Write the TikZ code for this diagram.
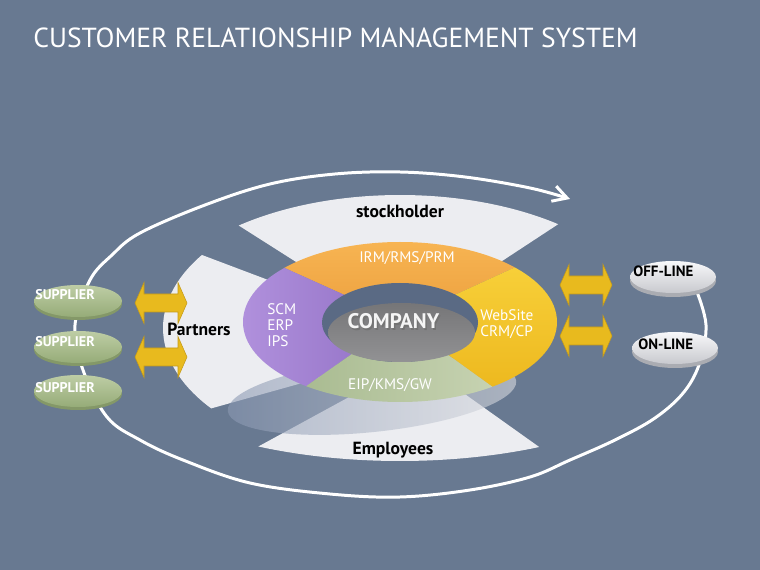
\documentclass[tikz,border=0pt]{standalone}
\usepackage{fontspec}
\setmainfont{PT Sans}
\usepackage{xcolor}
\usetikzlibrary{arrows.meta}

\definecolor{bgslate}{RGB}{104,121,145}
\definecolor{holeslate}{RGB}{90,106,132}
\definecolor{paperwhite}{RGB}{236,237,241}
\definecolor{orangetop}{RGB}{247,180,82}
\definecolor{orangebot}{RGB}{224,138,40}
\definecolor{purplel}{RGB}{176,144,220}
\definecolor{purpler}{RGB}{112,78,172}
\definecolor{greenl}{RGB}{160,180,135}
\definecolor{greenr}{RGB}{208,218,188}
\definecolor{yellowt}{RGB}{249,212,62}
\definecolor{yellowb}{RGB}{236,182,28}
\definecolor{companyt}{RGB}{118,118,120}
\definecolor{companyb}{RGB}{146,146,148}
\definecolor{shadowl}{RGB}{138,152,178}
\definecolor{shadowr}{RGB}{216,218,223}
\definecolor{arrowlight}{RGB}{253,224,84}
\definecolor{arrowdark}{RGB}{232,186,30}
\definecolor{arrowedge}{RGB}{196,154,24}
\definecolor{supplierlight}{RGB}{190,205,165}
\definecolor{supplierdark}{RGB}{150,172,120}
\definecolor{supplierrim}{RGB}{132,152,104}
\definecolor{disclight}{RGB}{248,248,250}
\definecolor{discdark}{RGB}{200,201,206}
\definecolor{discrim}{RGB}{170,172,178}

\begin{document}
\begin{tikzpicture}[
  x=0.02cm, y=-0.02cm,
  whitesector/.style={fill=paperwhite},
  cycleline/.style={draw=white, line width=1.7pt, -{Straight Barb[length=8pt, width=9pt]}},
  heading/.style={font=\fontsize{15.7}{18}\selectfont, text=white, inner sep=0pt, anchor=base west},
  rolelabel/.style={font=\fontsize{10}{12}\selectfont\bfseries, text=black, inner sep=0pt, anchor=base},
  ringlabel/.style={font=\fontsize{8.7}{9.07}\selectfont, text=white, inner sep=0pt},
  bigringlabel/.style={font=\fontsize{12}{14}\selectfont\bfseries, inner sep=0pt, anchor=base},
  disclabel/.style={font=\fontsize{8}{9}\selectfont\bfseries, inner sep=0pt, anchor=base west},
  dblarrow/.pic={
    \shade[top color=arrowdark, middle color=arrowlight, bottom color=arrowdark, draw=arrowedge, line width=0.3pt]
      (-26,0) -- (-17,-20.5) -- (-17,-9) -- (17,-9) -- (17,-20.5) -- (26,0)
      -- (17,20.5) -- (17,9) -- (-17,9) -- (-17,20.5) -- cycle;
  }
]
  \useasboundingbox (0,0) rectangle (760,570);
  \fill[bgslate] (0,0) rectangle (760,570);

  \node[heading] (title) at (33,48) {CUSTOMER RELATIONSHIP MANAGEMENT SYSTEM};

  % outer cycle
  \draw[cycleline] plot[smooth, tension=0.6] coordinates {(697,292) (706,325) (700,362) (684,392)
    (655,418) (615,440) (570,460) (530,477) (470,490) (400,497) (330,494) (250,483) (183,460)
    (140,440) (107,417) (83,370) (75,325) (90,280) (112,255) (140,233) (205,205) (270,184)
    (335,174) (400,172) (465,177) (530,188) (570,199)};

  % white cross
  \coordinate (crossc) at (400,328);
  \fill[whitesector] (crossc) -- ++(230.4:253 and 133) arc[start angle=230.4, end angle=308.7, x radius=253, y radius=133] -- cycle;
  \fill[whitesector] (crossc) ++(213.3:237 and 133) arc[start angle=213.3, end angle=142.8, x radius=237, y radius=133] -- (320,378) -- (300,292) -- cycle;
  \fill[whitesector] (crossc) ++(63.5:312 and 133) arc[start angle=63.5, end angle=117, x radius=312, y radius=133] -- (417,360) -- cycle;

  \shade[rotate around={6:(372,396)}, left color=shadowl, right color=shadowr, fill opacity=0.6] (372,396) ellipse[x radius=145, y radius=36];

  % ring
  \coordinate (ringc) at (400,322);
  \begin{scope}
    \clip (400,320) -- (34,155) -- (34,0) -- (760,0) -- (760,155) -- cycle;
    \shade[top color=orangetop, bottom color=orangebot] (ringc) ellipse[x radius=157, y radius=80];
  \end{scope}
  \begin{scope}
    \clip (400,320) -- (34,155) -- (0,155) -- (0,560) -- (115,521) -- cycle;
    \shade[left color=purplel, right color=purpler] (ringc) ellipse[x radius=157, y radius=80];
  \end{scope}
  \begin{scope}
    \clip (400,320) -- (115,521) -- (115,570) -- (700,570) -- (700,536) -- cycle;
    \shade[left color=greenl, right color=greenr] (ringc) ellipse[x radius=157, y radius=80];
  \end{scope}
  \begin{scope}
    \clip (400,320) -- (700,536) -- (760,536) -- (760,155) -- cycle;
    \shade[top color=yellowt, bottom color=yellowb] (ringc) ellipse[x radius=157, y radius=80];
  \end{scope}
  \fill[holeslate] (400,322.5) ellipse[x radius=78, y radius=39.5];
  \shade[top color=companyt, bottom color=companyb] (401.5,332.5) ellipse[x radius=73.5, y radius=29.5];

  \node[rolelabel] (stock) at (400,218) {stockholder};
  \node[rolelabel] (partners) at (199,336) {Partners};
  \node[rolelabel] (employees) at (393,454) {Employees};
  \node[ringlabel, anchor=base] (irm) at (407,263) {IRM/RMS/PRM};
  \node[ringlabel, anchor=north west, align=left] (scm) at (267,303) {SCM\\ERP\\IPS};
  \node[ringlabel, anchor=north west, align=left] (web) at (480,309) {WebSite\\CRM/CP};
  \node[ringlabel, anchor=base] (eip) at (390,390) {EIP/KMS/GW};
  \node[bigringlabel, text=black!55] (companyshade) at (395,330.5) {COMPANY};
  \node[bigringlabel, text=white!92!gray] (company) at (393.5,329) {COMPANY};

  % discs
  \foreach \n/\yc/\yb in {1/302/300, 2/348/347, 3/392/393} {
    \fill[supplierrim] (78,\yc+2) ellipse[x radius=44, y radius=16];
    \shade[top color=supplierlight, bottom color=supplierdark] (78,\yc-1) ellipse[x radius=44, y radius=16];
    \node[disclabel, text=white] (supplier\n) at (35,\yb) {SUPPLIER};
  }
  \foreach \nm/\xc/\yc/\xt/\yb/\txt in {offline/673/279/633/277/OFF-LINE, online/675/350/638/350/ON-LINE} {
    \fill[discrim] (\xc,\yc+2) ellipse[x radius=43, y radius=16];
    \shade[top color=disclight, bottom color=discdark] (\xc,\yc-2) ellipse[x radius=43, y radius=16];
    \node[disclabel, text=black, font=\fontsize{8.5}{9}\selectfont\bfseries] (\nm) at (\xt,\yb) {\txt};
  }

  \pic (partnerup) at (161,303) {dblarrow};
  \pic (partnerdown) at (161,357) {dblarrow};
  \pic (channelup) at (586,285) {dblarrow};
  \pic (channeldown) at (586,336) {dblarrow};
\end{tikzpicture}
\end{document}
